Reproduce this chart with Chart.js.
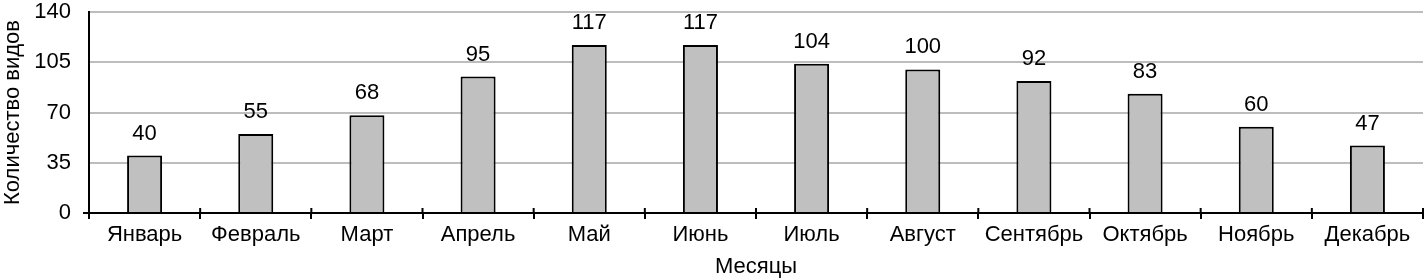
<!DOCTYPE html>
<html>
<head>
<meta charset="utf-8">
<script src="https://cdn.jsdelivr.net/npm/chart.js@4"></script>
<style>
  html, body { margin: 0; padding: 0; background: #fff; }
  #wrap { width: 1427px; height: 280px; }
</style>
</head>
<body>
<div id="wrap"><canvas id="speciesChart"></canvas></div>
<script>
const months = ['Январь', 'Февраль', 'Март', 'Апрель', 'Май', 'Июнь', 'Июль', 'Август', 'Сентябрь', 'Октябрь', 'Ноябрь', 'Декабрь'];
const speciesCount = [40, 55, 68, 95, 117, 117, 104, 100, 92, 83, 60, 47];
const yTicks = [0, 35, 70, 105, 140];

const FONT = 'Liberation Sans, Arial, sans-serif';

// value labels above bars
const barLabels = {
    id: 'barLabels',
    afterDatasetsDraw(chart) {
        const ctx = chart.ctx;
        const meta = chart.getDatasetMeta(0);
        ctx.save();
        ctx.font = '22px ' + FONT;
        ctx.fillStyle = '#000';
        ctx.textAlign = 'center';
        ctx.textBaseline = 'bottom';
        meta.data.forEach((bar, i) => {
            ctx.fillText(speciesCount[i], bar.x, bar.y - 11);
        });
        ctx.restore();
    }
};

// short tick marks crossing the x axis between categories
const crossTicks = {
    id: 'crossTicks',
    afterDraw(chart) {
        const ctx = chart.ctx;
        const xs = chart.scales.x;
        const y0 = chart.scales.y.getPixelForValue(0);
        ctx.save();
        ctx.strokeStyle = '#000';
        ctx.lineWidth = 2;
        ctx.beginPath();
        for (let i = 0; i <= months.length; i++) {
            const x = xs.getPixelForValue(i - 0.5);
            ctx.moveTo(x, y0 - 5);
            ctx.lineTo(x, y0);
        }
        ctx.moveTo(xs.left - 6, y0);
        ctx.lineTo(xs.left, y0);
        ctx.stroke();
        ctx.restore();
    }
};

const ctx = document.getElementById('speciesChart').getContext('2d');
new Chart(ctx, {
    type: 'bar',
    data: {
        labels: months,
        datasets: [{
            data: speciesCount,
            backgroundColor: '#c0c0c0',
            borderColor: '#000',
            borderWidth: 2,
            categoryPercentage: 1,
            barPercentage: 0.315
        }]
    },
    options: {
        responsive: true,
        maintainAspectRatio: false,
        animation: false,
        layout: { padding: { top: 0, right: 4, left: 0, bottom: 0 } },
        plugins: {
            legend: { display: false },
            tooltip: { enabled: false }
        },
        scales: {
            x: {
                afterFit(axis) {
                    axis.height = 67;
                },
                grid: {
                    display: true,
                    drawOnChartArea: false,
                    drawTicks: true,
                    tickLength: 6,
                    color: '#000',
                    lineWidth: 2
                },
                border: { color: '#000', width: 2 },
                ticks: { color: '#000', font: { family: FONT, size: 22 }, padding: 3, maxRotation: 0 },
                title: { display: true, text: 'Месяцы', color: '#000', font: { family: FONT, size: 22 }, padding: { top: 0, bottom: 0 } }
            },
            y: {
                min: 0,
                max: 140,
                afterBuildTicks(axis) {
                    axis.ticks = yTicks.map(v => ({ value: v }));
                },
                afterFit(axis) {
                    axis.width = 89;
                    axis.paddingTop = 12;
                    axis.paddingBottom = 0;
                },
                grid: { color: '#bdbdbd', lineWidth: 2, drawTicks: false },
                border: { color: '#000', width: 2 },
                ticks: { color: '#000', font: { family: FONT, size: 22 }, padding: 18 },
                title: { display: true, text: 'Количество видов', color: '#000', font: { family: FONT, size: 22 }, padding: { top: 0, bottom: 0 } }
            }
        }
    },
    plugins: [barLabels, crossTicks]
});
</script>
</body>
</html>
